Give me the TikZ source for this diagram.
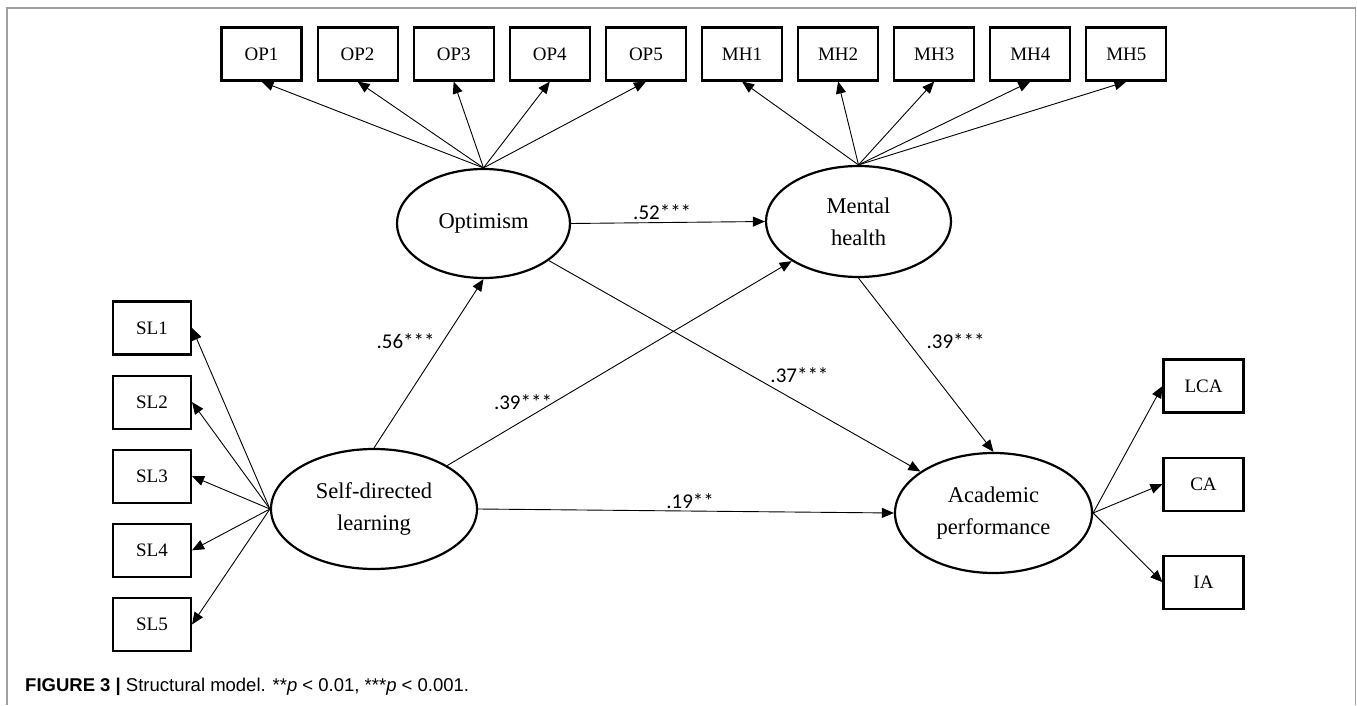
\documentclass[tikz,border=0pt]{standalone}
\usepackage{fontspec}
\setmainfont{Liberation Serif}
\newfontfamily\coeffont{Carlito}
\newfontfamily\captionfont{Liberation Sans}
\usetikzlibrary{arrows.meta,positioning,shapes.geometric}

\begin{document}
\begin{tikzpicture}[
  x=1pt, y=1pt,
  node distance=14pt,
  item/.style={draw, line width=2.1pt, minimum width=80pt, minimum height=53pt,
    inner sep=0pt, font=\fontsize{19}{21}\selectfont},
  latent/.style={draw, ellipse, line width=2.2pt, inner sep=0pt, align=center,
    font=\fontsize{22.5}{32}\selectfont},
  arr/.style={-{Triangle[length=12pt,width=10pt]}, line width=0.9pt},
  coef/.style={font=\coeffont\fontsize{21}{23}\selectfont, inner sep=2pt},
  frame/.style={draw=gray!75, line width=1.5pt}
]
  \useasboundingbox (0,0) rectangle (1357,705);
  \draw[frame] (7,0) -- (7,697) -- (1355.5,697) -- (1355.5,0);

  \node[item] (op1) at (261.5,651) {OP1};
  \node[item, right=of op1] (op2) {OP2};
  \node[item, right=of op2] (op3) {OP3};
  \node[item, right=of op3] (op4) {OP4};
  \node[item, right=of op4] (op5) {OP5};
  \node[item, right=of op5] (mh1) {MH1};
  \node[item, right=of mh1] (mh2) {MH2};
  \node[item, right=of mh2] (mh3) {MH3};
  \node[item, right=of mh3] (mh4) {MH4};
  \node[item, right=of mh4] (mh5) {MH5};

  \node[latent, minimum width=173pt, minimum height=109pt] (opt) at (483.5,481.5) {Optimism};
  \node[latent, minimum width=185pt, minimum height=111pt] (mh) at (858.5,483.5) {Mental\\health};
  \node[latent, minimum width=206pt, minimum height=120pt] (sdl) at (374,196) {Self-directed\\learning};
  \node[latent, minimum width=197pt, minimum height=120pt] (ap) at (993.5,192) {Academic\\performance};

  \node[item, minimum width=78pt] (sl1) at (152,377) {SL1};
  \node[item, minimum width=78pt, below=19pt of sl1] (sl2) {SL2};
  \node[item, minimum width=78pt, below=19pt of sl2] (sl3) {SL3};
  \node[item, minimum width=78pt, below=19pt of sl3] (sl4) {SL4};
  \node[item, minimum width=78pt, below=19pt of sl4] (sl5) {SL5};

  \node[item] (lca) at (1203.5,319) {LCA};
  \node[item, below=43pt of lca] (ca) {CA};
  \node[item, below=43pt of ca] (ia) {IA};

  \draw[arr] (opt.north) -- (op1.south);
  \draw[arr] (opt.north) -- (op2.south);
  \draw[arr] (opt.north) -- (op3.south);
  \draw[arr] (opt.north) -- (op4.south);
  \draw[arr] (opt.north) -- (op5.south);
  \draw[arr] (mh.north) -- (mh1.south);
  \draw[arr] (mh.north) -- (mh2.south);
  \draw[arr] (mh.north) -- (mh3.south);
  \draw[arr] (mh.north) -- (mh4.south);
  \draw[arr] (mh.north) -- (mh5.south);
  \draw[arr] (sdl.west) -- (sl1.east);
  \draw[arr] (sdl.west) -- (sl2.east);
  \draw[arr] (sdl.west) -- (sl3.east);
  \draw[arr] (sdl.west) -- (sl4.east);
  \draw[arr] (sdl.west) -- (sl5.east);
  \draw[arr] (ap.east) -- (lca.west);
  \draw[arr] (ap.east) -- (ca.west);
  \draw[arr] (ap.east) -- (ia.west);

  \draw[arr] (sdl.north) -- node[coef, pos=0.63, left=6pt] (c56) {.56***} (opt.south);
  \draw[arr] (opt.east) -- node[coef, pos=0.47, above] (c52) {.52***} (mh.west);
  \draw[arr] (sdl) -- node[coef, pos=0.22, above=8pt] (c39a) {.39***} (mh);
  \draw[arr] (opt) -- node[coef, pos=0.59, above right] (c37) {.37***} (ap);
  \draw[arr] (mh.south) -- node[coef, pos=0.36, right=17pt] (c39b) {.39***} (ap.north);
  \draw[arr] (sdl.east) -- node[coef, pos=0.51, above] (c19) {.19**} (ap.west);

  \node[anchor=base west, inner sep=0pt, font=\captionfont\fontsize{18.5}{20}\selectfont]
    (caption) at (25,14) {\textbf{FIGURE 3 |} Structural model. **\textit{p} < 0.01, ***\textit{p} < 0.001.};
\end{tikzpicture}
\end{document}
